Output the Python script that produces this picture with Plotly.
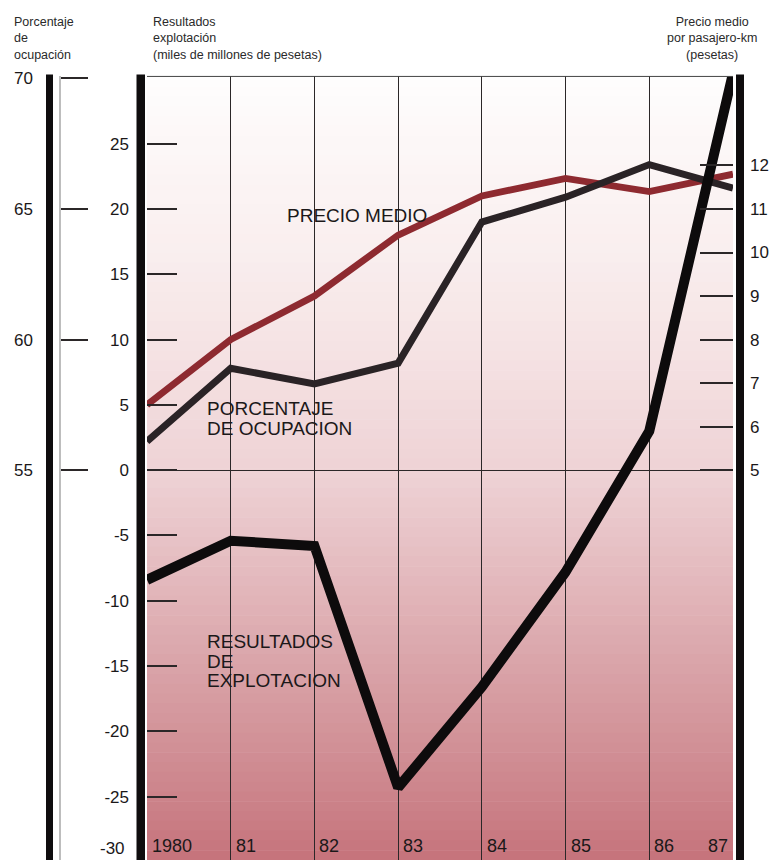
import plotly.graph_objects as go

# ---------------------------------------------------------------- data
years = [1980, 1981, 1982, 1983, 1984, 1985, 1986, 1987]
year_labels = ["1980", "81", "82", "83", "84", "85", "86", "87"]

# Resultados de explotación (miles de millones de pesetas)
resultados = [-8.4, -5.4, -5.8, -24.3, -16.6, -7.8, 3.0, 30.4]
# Porcentaje de ocupación
ocupacion = [56.1, 58.9, 58.3, 59.1, 64.5, 65.45, 66.7, 65.8]
# Precio medio por pasajero-km (pesetas)
precio = [6.5, 8.0, 9.0, 10.4, 11.3, 11.7, 11.4, 11.8]

res_ticks = [-25, -20, -15, -10, -5, 0, 5, 10, 15, 20, 25]
ocup_ticks = [55, 60, 65, 70]
precio_ticks = [5, 6, 7, 8, 9, 10, 11, 12]

# ---------------------------------------------------------------- page geometry
W, H = 769, 860
PLOT_L, PLOT_R, PLOT_T = 147, 733, 70


def px(x):
    return x / W


def py(y):
    return (H - y) / H


# the three scales share one vertical layout: 0 result <-> 55 % <-> 5 pts
res_range = [-29.85, 30.15]
ocup_range = [55 + r / 2 for r in res_range]
precio_range = [5 + 0.3 * r for r in res_range]

FONT = "Liberation Sans, Arial, sans-serif"
INK = "#1b1819"

fig = go.Figure()

# precio medio (base subplot, drawn lowest)
fig.add_trace(go.Scatter(
    x=years, y=precio, yaxis="y", mode="lines",
    line=dict(color="#8e2a30", width=6.8), hoverinfo="skip", showlegend=False))
# porcentaje de ocupacion
fig.add_trace(go.Scatter(
    x=years, y=ocupacion, yaxis="y2", mode="lines",
    line=dict(color="#2a2326", width=7), hoverinfo="skip", showlegend=False))
# resultados de explotacion (top)
fig.add_trace(go.Scatter(
    x=years, y=resultados, yaxis="y3", mode="lines",
    line=dict(color="#0d0b0c", width=10), hoverinfo="skip", showlegend=False))

# ---------------------------------------------------------------- background wash
wash_stops = [
    (70, (254, 253, 253)), (150, (252, 246, 246)), (250, (249, 238, 238)),
    (350, (245, 226, 227)), (470, (238, 210, 213)), (560, (229, 189, 193)),
    (650, (219, 167, 172)), (750, (209, 143, 149)), (860, (197, 115, 123)),
]


def wash_color(y):
    for (y0, c0), (y1, c1) in zip(wash_stops[:-1], wash_stops[1:]):
        if y0 <= y <= y1:
            t = (y - y0) / (y1 - y0)
            c = [round(a + (b - a) * t) for a, b in zip(c0, c1)]
            return "rgb({},{},{})".format(*c)
    return "rgb({},{},{})".format(*wash_stops[-1][1])


shapes = []
n_bands = 80
band_h = (H - PLOT_T) / n_bands
for i in range(n_bands):
    y_top = PLOT_T + i * band_h
    y_bot = y_top + band_h
    shapes.append(dict(
        type="rect", xref="paper", yref="paper", layer="below",
        x0=px(PLOT_L), x1=px(PLOT_R), y0=py(y_bot + 0.6), y1=py(y_top),
        fillcolor=wash_color(y_top + band_h / 2), line=dict(width=0)))

# heavy vertical rules beside the scales
for x0, x1 in [(46, 53), (136.5, 145), (736, 744)]:
    shapes.append(dict(
        type="rect", xref="paper", yref="paper", layer="above",
        x0=px(x0), x1=px(x1), y0=0, y1=py(68),
        fillcolor="#0f0d0e", line=dict(width=0)))

# top frame line of the chart area
shapes.append(dict(
    type="line", xref="paper", yref="paper", layer="above",
    x0=px(PLOT_L), x1=px(PLOT_R), y0=py(PLOT_T), y1=py(PLOT_T),
    line=dict(color="#444", width=1)))

# ---------------------------------------------------------------- text
annotations = []


def add_text(text, x, y, size, anchor="left", color=INK, xref="paper",
             xshift=0, yanchor="middle", align="left"):
    annotations.append(dict(
        text=text, x=x, y=py(y), xref=xref, yref="paper",
        xanchor=anchor, yanchor=yanchor, align=align, showarrow=False,
        xshift=xshift, font=dict(family=FONT, size=size, color=color)))


# scale headings
HEAD = "#2a2a2a"
add_text("Porcentaje<br>de<br>ocupación", px(12), 6, 12.5,
         color=HEAD, yanchor="top")
add_text("Resultados<br>explotación<br>(miles de millones de pesetas)",
         px(151), 6, 12.5, color=HEAD, yanchor="top")
add_text("Precio medio<br>por pasajero-km<br>(pesetas)", px(712), 6, 12.5,
         anchor="center", align="center", color=HEAD, yanchor="top")

# series labels
add_text("PRECIO MEDIO", px(285), 210, 19)
add_text("PORCENTAJE", px(205), 405, 19)
add_text("DE OCUPACION", px(205), 425, 19)
add_text("RESULTADOS", px(205), 640, 19)
add_text("DE", px(205), 660, 19)
add_text("EXPLOTACION", px(205), 679, 19)

# year labels along the foot of the chart
for yr, lab in zip(years, year_labels):
    if yr == years[-1]:
        add_text(lab, yr, 846, 18, anchor="right", xref="x", xshift=-3)
    else:
        add_text(lab, yr, 846, 18, anchor="left", xref="x", xshift=3)

# lowest value of the results scale sits on the page edge
add_text("-30", px(127), 848, 17, anchor="right")

# ---------------------------------------------------------------- layout
tick_font = dict(family=FONT, size=17, color=INK)

fig.update_layout(
    width=W, height=H,
    margin=dict(l=0, r=0, t=0, b=0),
    paper_bgcolor="white", plot_bgcolor="rgba(0,0,0,0)",
    showlegend=False,
    hovermode=False,
    xaxis=dict(
        domain=[px(PLOT_L), px(PLOT_R)], range=[years[0], years[-1]],
        tickvals=years, showticklabels=False, ticks="",
        showgrid=True, gridcolor="#2b2728", gridwidth=1.2,
        zeroline=False, showline=False, fixedrange=True),
    # precio medio, right-hand scale
    yaxis=dict(
        domain=[0, py(PLOT_T)], range=precio_range, side="right", anchor="x",
        tickvals=precio_ticks, ticktext=[str(v) for v in precio_ticks],
        ticks="inside", ticklen=33, tickwidth=1.6, tickcolor="#2b2728",
        ticklabelstandoff=16, tickfont=tick_font,
        showgrid=False, zeroline=False, showline=False, fixedrange=True),
    # porcentaje de ocupacion, outer left scale
    yaxis2=dict(
        overlaying="y", range=ocup_range, side="left", anchor="free",
        position=px(60),
        tickvals=ocup_ticks, ticktext=[str(v) for v in ocup_ticks],
        ticks="inside", ticklen=27, tickwidth=1.6, tickcolor="#2b2728",
        ticklabelstandoff=23, tickfont=tick_font,
        showline=True, linecolor="#bdbdbd", linewidth=1.5,
        showgrid=False, zeroline=False, fixedrange=True),
    # resultados de explotacion, inner left scale
    yaxis3=dict(
        overlaying="y", range=res_range, side="left", anchor="x",
        tickvals=res_ticks, ticktext=[str(v) for v in res_ticks],
        ticks="inside", ticklen=30, tickwidth=1.6, tickcolor="#2b2728",
        ticklabelstandoff=17, tickfont=tick_font,
        showgrid=False, showline=False,
        zeroline=True, zerolinecolor="#2b2728", zerolinewidth=1.3,
        fixedrange=True),
    shapes=shapes,
    annotations=annotations,
)

fig.write_html("out.html")
